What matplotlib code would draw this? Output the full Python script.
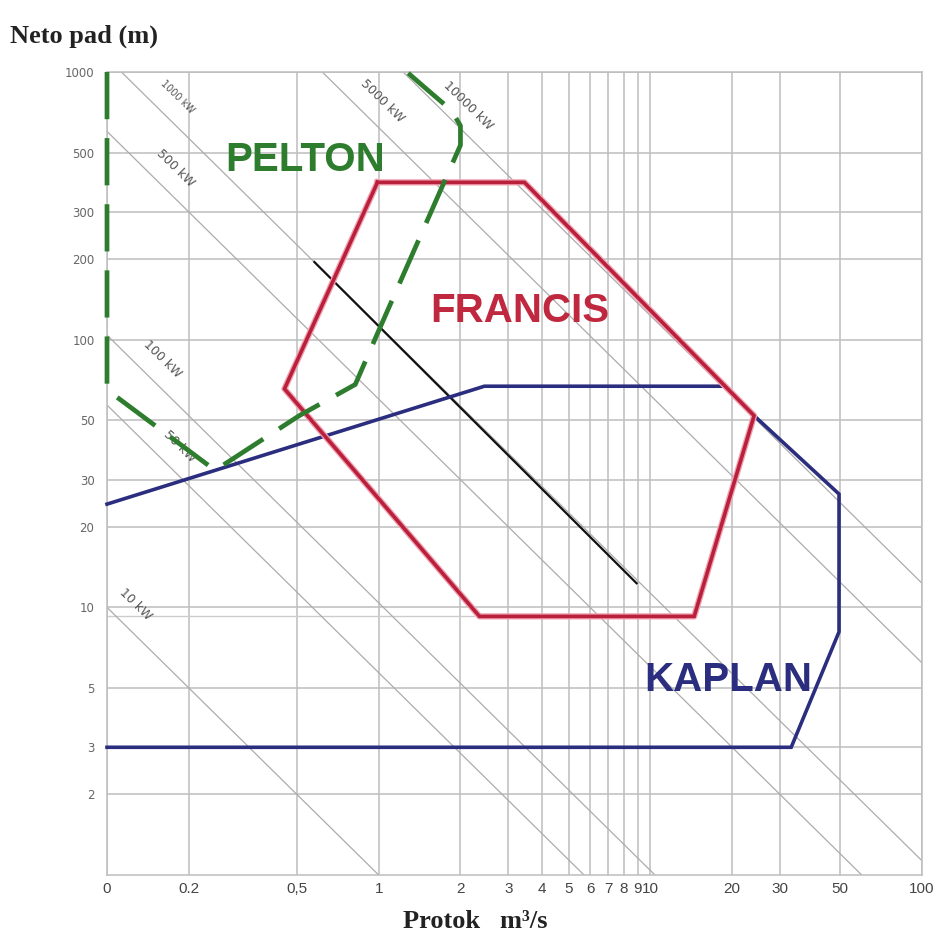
import numpy as np
import matplotlib
matplotlib.use("Agg")
import matplotlib.pyplot as plt

# ---------------- data ----------------
x_ticks = [0.1, 0.2, 0.5, 1, 2, 3, 4, 5, 6, 7, 8, 9, 10, 20, 30, 50, 100]
x_tick_labels = ["0", "0.2", "0,5", "1", "2", "3", "4", "5", "6", "7", "8", "9", "10", "20", "30", "50", "100"]
y_ticks = [2, 3, 5, 10, 20, 30, 50, 100, 200, 300, 500, 1000]
y_tick_labels = ["2", "3", "5", "10", "20", "30", "50", "100", "200", "300", "500", "1000"]

# constant-power lines: power (kW) and the Q*H product
power_kw = [10, 50, 100, 500, 1000, 5000, 10000]
power_qh = [1.0, 5.7, 10.4, 60, 113, 620, 1230]
power_label_q = [0.127, 0.185, 0.16, 0.178, 0.182, 1.03, 2.13]

pelton_q = [0.1, 0.1, 0.25, 0.51, 0.82, 1.0, 2.0, 2.0, 1.85, 1.57, 1.27]
pelton_h = [1000, 65, 32.5, 52, 68, 108, 533, 630, 720, 830, 1000]

francis_q = [0.99, 3.44, 24.1, 14.5, 2.35, 0.45, 0.99]
francis_h = [387, 387, 52, 9.25, 9.25, 65.5, 387]

kaplan_q = [0.1, 2.45, 18.8, 24.1, 49.5, 49.5, 33, 0.1]
kaplan_h = [24.3, 67, 67, 52, 26.5, 8.1, 3, 3]

black_q = [0.58, 8.9]
black_h = [195, 12.3]

# ---------------- figure ----------------
fig = plt.figure(figsize=(9.44, 9.41), dpi=100)
ax = fig.add_axes([107 / 944, 66 / 941, 815 / 944, 803 / 941])
ax.set_xscale("log")
ax.set_yscale("log")
ax.set_xlim(0.1, 100)
ax.set_ylim(1, 1000)

grid_c = "#bdbdbd"
for xv in x_ticks:
    ax.axvline(xv, color=grid_c, lw=1.1, zorder=1)
for yv in y_ticks:
    ax.axhline(yv, color=grid_c, lw=1.1, zorder=1)
ax.axhline(9.3, xmax=0.45, color="#cccccc", lw=1.0, zorder=1)

for s in ax.spines.values():
    s.set_color(grid_c)
    s.set_linewidth(1.1)

ax.set_xticks(x_ticks)
ax.set_xticklabels(x_tick_labels)
ax.set_yticks(y_ticks)
ax.set_yticklabels(y_tick_labels)
ax.minorticks_off()
ax.tick_params(axis="both", length=0)
ax.tick_params(axis="x", pad=5, labelsize=11, labelcolor="#444444")
ax.tick_params(axis="y", pad=9, labelsize=8.5, labelcolor="#666666")
for lab in ax.get_xticklabels():
    lab.set_family(["Liberation Sans Narrow", "Liberation Sans", "DejaVu Sans"])

# constant power lines
for p, qh, lq in zip(power_kw, power_qh, power_label_q):
    q = np.geomspace(max(0.1, qh / 1000.0), min(100, qh / 1.0), 200)
    ax.plot(q, qh / q, color="#acacac", lw=0.9, zorder=2)
    fs = 7 if p == 1000 else 9
    ax.text(lq, qh * 1.3 / lq, f"{p} kW", rotation=-44.5, ha="center", va="center",
            fontsize=fs, color="#555555", zorder=3)

# black line
ax.plot(black_q, black_h, color="#111111", lw=1.6, zorder=4)

# Kaplan
ax.plot(kaplan_q, kaplan_h, color="#2b2d7e", lw=2.6, zorder=5, solid_joinstyle="miter",
        clip_on=False)

# Francis (with faint halo)
ax.plot(francis_q, francis_h, color="#f2a0b0", lw=4.5, zorder=5)
ax.plot(francis_q, francis_h, color="#b8203c", lw=2.6, zorder=6, solid_joinstyle="miter")

# Pelton dashed
pl, = ax.plot(pelton_q, pelton_h, color="#2e7d2e", lw=3.4, zorder=7, clip_on=False)
pl.set_dashes((10, 4))

# region labels
ax.text(0.243, 0.890, "PELTON", transform=ax.transAxes, ha="center", va="center",
        fontsize=29, fontweight="bold", color="#2e7d2e", family="Liberation Sans", zorder=8)
ax.text(0.507, 0.702, "FRANCIS", transform=ax.transAxes, ha="center", va="center",
        fontsize=29, fontweight="bold", color="#c0283f", family="Liberation Sans", zorder=8)
ax.text(0.762, 0.243, "KAPLAN", transform=ax.transAxes, ha="center", va="center",
        fontsize=29, fontweight="bold", color="#2b2d7e", family="Liberation Sans", zorder=8)

# axis titles
fig.text(10 / 944, 1 - 36 / 941, "Neto pad (m)", ha="left", va="center",
         fontsize=19, fontweight="bold", family="Liberation Serif", color="#222222")
fig.text(475 / 944, 1 - 922 / 941, "Protok   m\u00b3/s", ha="center", va="center",
         fontsize=19, fontweight="bold", family="Liberation Serif", color="#222222")

fig.savefig("out.png", dpi=100)
